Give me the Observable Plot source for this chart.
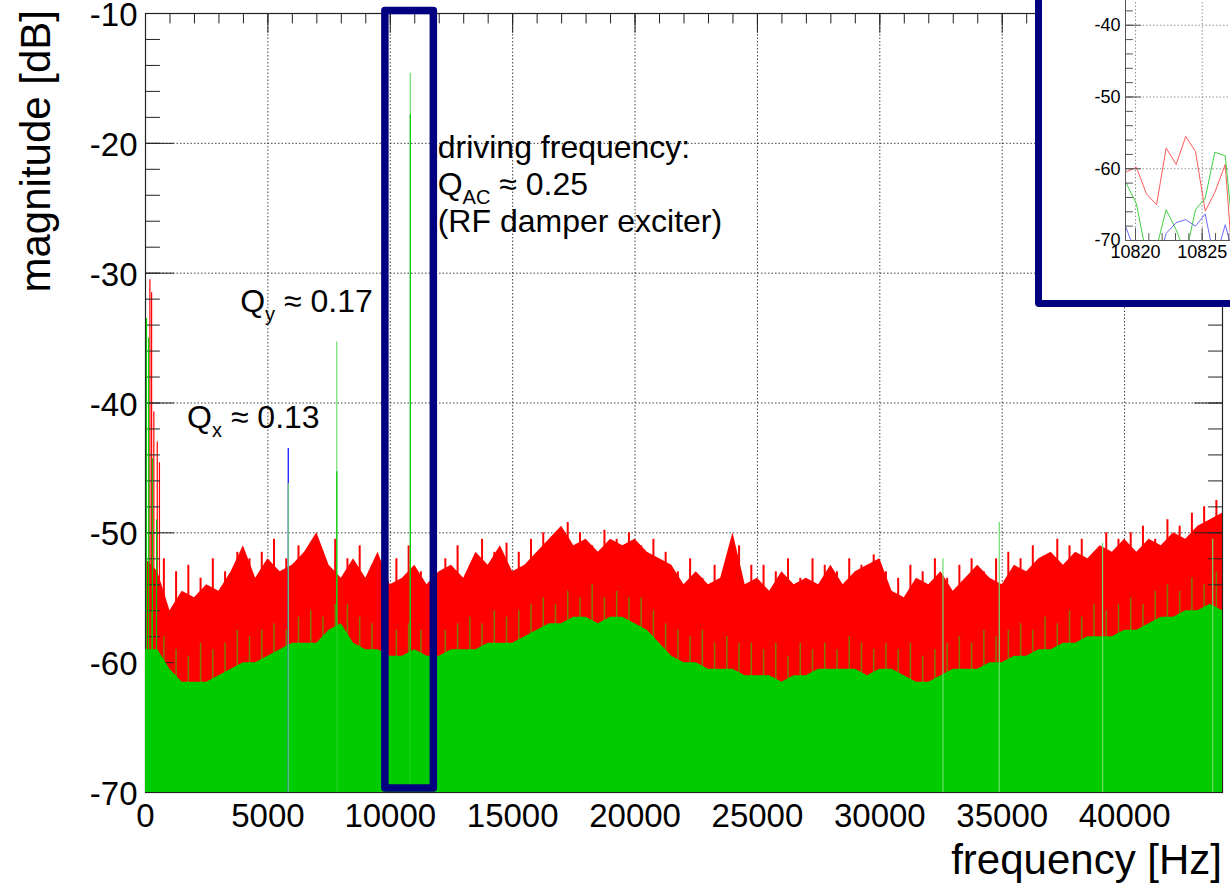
<!DOCTYPE html>
<html><head><meta charset="utf-8">
<script src="https://cdn.jsdelivr.net/npm/d3@7"></script>
<script src="https://cdn.jsdelivr.net/npm/@observablehq/plot@0.6"></script>
<style>
html,body{margin:0;padding:0;background:#fff;overflow:hidden;width:1230px;height:895px;}
#wrap{position:relative;width:1230px;height:895px;overflow:hidden;}
#main{position:absolute;left:0;top:0;}
#inset{position:absolute;left:1035px;top:-67px;width:400px;height:360px;border:7px solid #000080;border-radius:4px;background:#fff;}
svg{font-family:"Liberation Sans",Arial,sans-serif;}
</style></head><body><div id="wrap"><div id="main"></div><div id="inset"></div></div>
<script>
// ---------- data ----------
const specStep = 500; // Hz between spectrum samples
// red channel: upper level of the dense noise, at 0, 500, 1000 ... 44000 Hz
const redTop = [
  -52, -53, -56, -54.5, -55, -54, -54.5, -53, -51, -53.5,
  -52, -53, -52.5, -51.5, -50, -52.5, -53.5, -52, -53.5, -51.5,
  -54, -53.5, -52.5, -54, -53, -52.5, -53.5, -51.5, -52.5, -51,
  -53, -52.5, -51.5, -50.5, -49.5, -51, -50.5, -51.5, -50.5, -51,
  -50.5, -51.5, -52, -52.5, -54, -53, -54, -53.5, -50, -54,
  -53.5, -54.5, -53, -54, -53.5, -54, -52.5, -54, -53, -52.5,
  -52, -54.5, -55, -53.5, -54, -53, -54.5, -53.5, -52.5, -53.5,
  -54, -52.5, -53, -52, -51.5, -52.5, -51.5, -52, -51, -51.5,
  -50.5, -51.5, -50.5, -51, -50, -50.5, -49.5, -49, -48.5
];
// red channel: noise needles in between, at 250, 750, ... 43750 Hz
const redMid = [
  -50, -52, -53, -52.5, -53.5, -52, -53, -51.5, -52, -51.5,
  -50.5, -52, -51, -52.5, -51.5, -50.5, -52, -51, -52.5, -51,
  -52, -51, -53, -51.5, -52, -51, -52.5, -50.5, -51.5, -50.8,
  -51.5, -50.5, -50, -51, -49.2, -50, -51, -49.8, -50.5, -50,
  -51, -50.5, -51.5, -53, -52, -53.5, -52.5, -52, -51, -52.5,
  -52.5, -53, -52, -53.5, -52, -52.5, -53, -52, -52.5, -51.7,
  -53, -53.5, -52.5, -53, -52, -53.5, -52.5, -52, -53, -52,
  -51.5, -52, -51, -52.5, -50.5, -51, -50.5, -51.5, -50, -50.5,
  -50, -49.5, -50.5, -49, -49.5, -48.5, -48, -47.5
];
// green channel: top of the noise floor, at 0, 500 ... 44000 Hz
const greenTop = [
  -59, -59, -60.5, -61.5, -61.5, -61.5, -61, -60.5, -60, -60,
  -59.5, -59, -58.5, -58.5, -58.5, -57.5, -57, -58.5, -59, -59,
  -59.5, -59.5, -59, -59.5, -59.5, -59, -59, -59, -58.5, -58.5,
  -58.5, -58, -57.5, -57, -57, -56.5, -56.5, -57, -56.5, -56.5,
  -57, -57.5, -58.5, -59.5, -60, -60, -60.5, -60.5, -60.5, -61,
  -61, -61, -61.5, -61, -61, -60.5, -60.5, -60.5, -60.5, -61,
  -60.5, -60.5, -61, -61.5, -61.5, -61, -60.5, -60.5, -60.5, -60,
  -60, -59.5, -59.5, -59, -59, -58.5, -58.5, -58, -58, -58,
  -57.5, -57.5, -57, -56.5, -56.5, -56, -56, -55.5, -56
];
// green channel: noise needles reaching into the red band, at 250, 750, ... 43750 Hz
const greenMid = [
  -56, -58, -59, -59.5, -58.5, -59, -58.5, -57.5, -58, -57.5,
  -57, -57.5, -56.5, -56, -56.5, -55.5, -55.5, -56.5, -57, -57,
  -57.5, -57, -57.5, -56.5, -57.5, -57, -56.5, -57, -56, -56.5,
  -56, -55.5, -55, -55.5, -54.5, -55, -54, -55, -54.5, -55,
  -55, -56, -57, -57.5, -58, -57.5, -58.5, -58, -58.5, -58.5,
  -59, -58.5, -59.5, -58.5, -59, -58.5, -59, -58, -58.5, -59,
  -58.5, -59, -58.5, -59.5, -59, -58.5, -58, -58.5, -57.5, -58,
  -57.5, -57, -57.5, -56.5, -57, -56, -56.5, -55.5, -56, -55.5,
  -55, -55.5, -54.5, -54, -54.5, -53.5, -54, -53
];
const redSpikeFreq = [20, 180, 250, 340, 480, 570];
const redSpikeDb   = [-46.5, -30.5, -31.5, -40.7, -43, -44.6];
const blueSpikeFreq = [5832];
const blueSpikeDb   = [-43.5];
const lightGreenFreq = [5832, 7815, 10820, 32580, 34880, 39100, 43600];
const lightGreenDb   = [-46.2, -35.3, -14.6, -52, -49.2, -50.8, -50.5];
const greenSpikeFreq = [40, 130, 280, 450, 7815, 10820];
const greenSpikeDb   = [-33.5, -35, -44.3, -49, -45.3, -17.8];
const boxFreq = [9800, 11780];
const boxDb = [-69.7, -9.8];

const xDomain = [0, 44000];
const yDomain = [-70, -10];
const xMajor = [0, 5000, 10000, 15000, 20000, 25000, 30000, 35000, 40000];
const xMinor = d3.range(0, 44001, 1000);
const yMajor = [-70, -60, -50, -40, -30, -20, -10];
const yMinor = d3.range(-70, -9, 2);

// annotations: [main, subscript, rest]
const annotations = [
  {f: 1720, db: -42.0, lines: [["Q", "x", " \u2248 0.13"]]},
  {f: 3890, db: -33.0, lines: [["Q", "y", " \u2248 0.17"]]},
  {f: 11957, db: -21.13, lines: [["driving frequency:"], ["Q", "AC", " \u2248 0.25"], ["(RF damper exciter)"]]}
];

// inset
const insetFreq  = [10819.25, 10820.07, 10820.82, 10821.58, 10822.3, 10823.05, 10823.77, 10824.5, 10825.23, 10825.95, 10826.73, 10827.47];
const insetRed   = [-60.5, -59.8, -63.5, -65.0, -57.1, -59.4, -55.5, -57.6, -65.9, -63.3, -59.4, -78];
const insetGreen = [-61.8, -64.9, -72, -71, -65.7, -68.5, -72, -65.7, -64.1, -57.7, -58.2, -72];
const insetBlue  = [-68, -72, -74, -74, -69, -67.5, -67.1, -68, -66.3, -73, -67.8, -73];
const insetXDomain = [10819.25, 10841.75];
const insetYDomain = [-70, -30];
const insetXMajor = [10820, 10825, 10830, 10835, 10840];
const insetXMinor = d3.range(10820, 10842, 1);
const insetYMajor = [-70, -60, -50, -40, -30];
const insetYMinor = d3.range(-70, -29, 2);

// ---------- build tables ----------
const spectrum = redTop.map((r, i) => ({f: i * specStep, red: r, green: greenTop[i]}));
const needles = redMid.map((r, i) => ({f: (i + 0.5) * specStep, red: r, green: greenMid[i]}));
const zip = (fs, ds) => fs.map((f, i) => ({f, db: ds[i]}));
const redSpikes = zip(redSpikeFreq, redSpikeDb);
const blueSpikes = zip(blueSpikeFreq, blueSpikeDb);
const lightGreenSpikes = zip(lightGreenFreq, lightGreenDb);
const greenSpikes = zip(greenSpikeFreq, greenSpikeDb);
const box = [{x1: boxFreq[0], x2: boxFreq[1], y1: boxDb[0], y2: boxDb[1]}];
const insetData = insetFreq.map((f, i) => ({f, red: insetRed[i], green: insetGreen[i], blue: insetBlue[i]}));

const tickShape = {draw(ctx, l) { ctx.moveTo(0, 0); ctx.lineTo(0, -l); }};
const ticks = (data, ch, anchor, rotate, length, stroke = "#222") =>
  Plot.vector(data, {[ch]: d => d, frameAnchor: anchor, anchor: "start", rotate, length, shape: tickShape, stroke, strokeWidth: 1});
const base = yDomain[0];

const main = Plot.plot({
  width: 1230, height: 895,
  marginLeft: 145, marginRight: 8, marginTop: 13, marginBottom: 103,
  x: {domain: xDomain},
  y: {domain: yDomain},
  style: {fontFamily: "'Liberation Sans', Arial, sans-serif", fontSize: "33px", background: "white", color: "#000", overflow: "visible"},
  marks: [
    Plot.gridX(xMajor.filter(d => d > xDomain[0]), {stroke: "#000", strokeOpacity: 0.75, strokeDasharray: "1.5,2"}),
    Plot.gridY(yMajor.filter(d => d > yDomain[0] && d < yDomain[1]), {stroke: "#000", strokeOpacity: 0.75, strokeDasharray: "1.5,2"}),
    Plot.areaY(spectrum, {x: "f", y1: () => base, y2: "red", fill: "#ff0000"}),
    Plot.ruleX(needles, {x: "f", y1: () => base, y2: "red", stroke: "#ff0000", strokeWidth: 2}),
    Plot.ruleX(redSpikes, {x: "f", y1: () => base, y2: "db", stroke: "#ff0000", strokeWidth: 1.2}),
    Plot.ruleX(needles, {x: "f", y1: () => base, y2: "green", stroke: "#7d7a00", strokeWidth: 1.5}),
    Plot.frame({stroke: "#222", strokeWidth: 1.2}),
    ticks(yMinor, "y", "left", 90, 14),
    ticks(yMajor, "y", "left", 90, 28),
    ticks(yMinor, "y", "right", -90, 14),
    ticks(yMajor, "y", "right", -90, 28),
    ticks(xMinor, "x", "top", 180, 9.5),
    ticks(xMajor, "x", "top", 180, 19),
    Plot.areaY(spectrum, {x: "f", y1: () => base, y2: "green", fill: "#00cc00"}),
    Plot.ruleX(blueSpikes, {x: "f", y1: () => base, y2: "db", stroke: "#0000ff", strokeWidth: 1.2}),
    Plot.ruleX(lightGreenSpikes, {x: "f", y1: () => base, y2: "db", stroke: "#6fdc6f", strokeWidth: 1.2}),
    Plot.ruleX(greenSpikes, {x: "f", y1: () => base, y2: "db", stroke: "#00cc00", strokeWidth: 1.2}),
    Plot.rect(box, {x1: "x1", x2: "x2", y1: "y1", y2: "y2", fill: "none", stroke: "#000080", strokeWidth: 7.5, strokeLinejoin: "round"}),
    Plot.axisX(xMajor, {tickSize: 0, tickPadding: 11, tickFormat: d => String(d), fontSize: 33, label: null}),
    Plot.axisY(yMajor, {tickSize: 0, tickPadding: 8, tickFormat: d => String(d), fontSize: 33, dy: 2, label: null})
  ]
});
document.getElementById("main").appendChild(main);

function scaleFn(plot, name) {
  const s = plot.scale(name);
  if (s && typeof s.apply === "function") return v => s.apply(v);
  return d3.scaleLinear(s.domain, s.range);
}
const sx = scaleFn(main, "x"), sy = scaleFn(main, "y");
const svg = d3.select(main);
const lineGap = 37, subShift = 9;
annotations.forEach(a => {
  a.lines.forEach((parts, i) => {
    const t = svg.append("text")
      .attr("x", sx(a.f)).attr("y", sy(a.db) + i * lineGap)
      .attr("text-anchor", "start")
      .attr("font-size", 32).attr("fill", "#000")
      .style("white-space", "pre");
    t.append("tspan").text(parts[0]);
    if (parts.length > 1) {
      t.append("tspan").attr("font-size", 20).attr("dy", subShift).text(parts[1]);
      t.append("tspan").attr("dy", -subShift).text(parts[2]);
    }
  });
});
svg.append("text").attr("transform", "translate(50,10) rotate(-90)")
  .attr("text-anchor", "end").attr("font-size", 42).attr("fill", "#000").text("magnitude [dB]");
svg.append("text").attr("x", 1222).attr("y", 874)
  .attr("text-anchor", "end").attr("font-size", 42).attr("fill", "#000").text("frequency [Hz]");

// ---------- inset ----------
const ibase = insetYDomain[0];
const inset = Plot.plot({
  width: 400, height: 360,
  marginLeft: 83, marginRight: 17, marginTop: 13, marginBottom: 60,
  x: {domain: insetXDomain},
  y: {domain: insetYDomain},
  style: {fontFamily: "'Liberation Sans', Arial, sans-serif", fontSize: "18px", background: "white", color: "#000", overflow: "visible"},
  marks: [
    Plot.gridX(insetXMajor, {stroke: "#777", strokeOpacity: 0.8, strokeDasharray: "1.5,2"}),
    Plot.gridY(insetYMajor.filter(d => d > ibase), {stroke: "#777", strokeOpacity: 0.8, strokeDasharray: "1.5,2"}),
    Plot.line(insetData, {x: "f", y: "red", stroke: "#ff5a5a", strokeWidth: 1, clip: true}),
    Plot.line(insetData, {x: "f", y: "green", stroke: "#3fd03f", strokeWidth: 1, clip: true}),
    Plot.line(insetData, {x: "f", y: "blue", stroke: "#6b6bff", strokeWidth: 1, clip: true}),
    Plot.ruleX([insetXDomain[0]], {stroke: "#555"}),
    Plot.ruleY([ibase], {stroke: "#555"}),
    ticks(insetYMinor, "y", "left", 90, 7, "#555"),
    ticks(insetYMajor, "y", "left", 90, 15, "#555"),
    ticks(insetXMinor, "x", "bottom", 0, 7, "#555"),
    ticks(insetXMajor, "x", "bottom", 0, 12, "#555"),
    Plot.axisX(insetXMajor, {tickSize: 0, tickPadding: 5, tickFormat: d => String(d), fontSize: 18, label: null}),
    Plot.axisY(insetYMajor, {tickSize: 0, tickPadding: 5, tickFormat: d => String(d), fontSize: 18, label: null})
  ]
});
document.getElementById("inset").appendChild(inset);
</script>
</body></html>
